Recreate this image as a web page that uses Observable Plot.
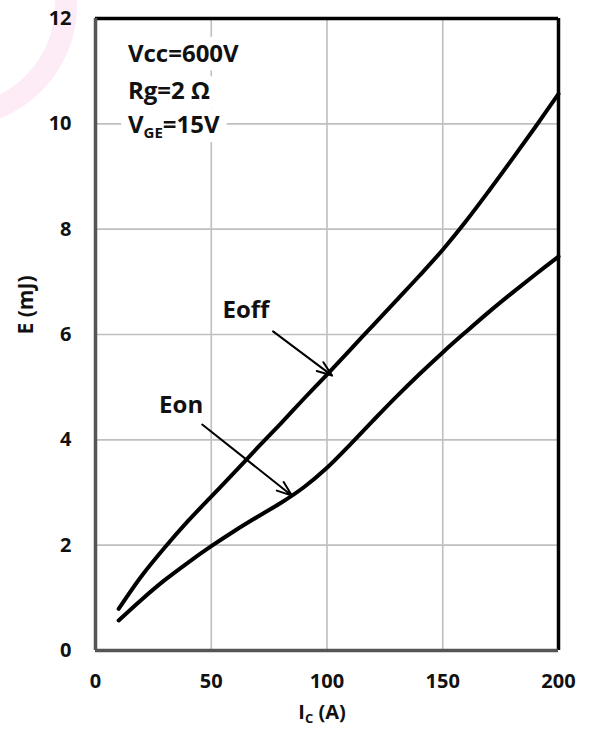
<!DOCTYPE html>
<html>
<head>
<meta charset="utf-8">
<script src="https://cdn.jsdelivr.net/npm/d3@7"></script>
<script src="https://cdn.jsdelivr.net/npm/@observablehq/plot@0.6"></script>
<style>
  body { margin: 0; background: #fff; }
  #wrap { position: relative; width: 595px; height: 733px; overflow: hidden; background: #fff; }
  #ring { position: absolute; left: -167px; top: -117px; width: 244px; height: 244px; box-sizing: border-box;
          border: 22px solid #fdebf5; border-radius: 50%; }
  #chart { position: absolute; left: 0; top: 0; }
</style>
</head>
<body>
<div id="wrap"><div id="ring"></div><div id="chart"></div></div>
<script>
// Collector current (A) and switching energy (mJ)
const currentA = [10, 20, 30, 40, 50, 60, 70, 80, 90, 100, 110, 120, 130, 140, 150, 160, 170, 180, 190, 200];
const eoffE = [0.79, 1.42, 1.96, 2.46, 2.92, 3.38, 3.85, 4.31, 4.78, 5.24, 5.71, 6.18, 6.65, 7.12, 7.61, 8.15, 8.73, 9.33, 9.94, 10.57];
const eonE  = [0.57, 0.97, 1.34, 1.67, 1.98, 2.27, 2.54, 2.80, 3.10, 3.47, 3.91, 4.37, 4.82, 5.25, 5.66, 6.05, 6.43, 6.79, 7.14, 7.48];

const xTicks = [0, 50, 100, 150, 200];
const yTicks = [0, 2, 4, 6, 8, 10, 12];

// Annotation texts (anchored in data units)
const conditions = ["Vcc=600V", "Rg=2 Ω", "VGE=15V"];
const conditionY = [11.32, 10.62, 9.98];
const curveLabels = [{text: "Eoff", x: 65, y: 6.45}, {text: "Eon", x: 37, y: 4.65}];
const pointers = [
  {x1: 76.7, y1: 6.06, x2: 102.2, y2: 5.22},
  {x1: 46.1, y1: 4.29, x2: 84.9, y2: 2.94}
];

const eoffRows = currentA.map((ic, i) => ({ic, e: eoffE[i]}));
const eonRows = currentA.map((ic, i) => ({ic, e: eonE[i]}));
const condRows = conditions.map((t, i) => ({text: t, x: 14, y: conditionY[i]}));

const font = "'Open Sans', 'DejaVu Sans', sans-serif";
const txt = {fontSize: 24, fontWeight: "bold"};

const chart = Plot.plot({
  width: 595,
  height: 733,
  marginLeft: 95,
  marginRight: 37,
  marginTop: 18,
  marginBottom: 83,
  style: {fontFamily: font, fontWeight: "bold", fontSize: "20px", color: "#111", background: "transparent", overflow: "visible"},
  x: {domain: [0, 200], ticks: xTicks, tickSize: 0, tickPadding: 23, label: null},
  y: {domain: [0, 12], ticks: yTicks, tickSize: 0, tickPadding: 24, label: null},
  marks: [
    Plot.gridX(xTicks, {stroke: "#bfbfbf", strokeOpacity: 1, strokeWidth: 1.6}),
    Plot.gridY(yTicks, {stroke: "#bfbfbf", strokeOpacity: 1, strokeWidth: 1.6}),
    // white boxes behind the annotation texts (cut the grid like the reference)
    Plot.text(condRows, {x: "x", y: "y", text: "text", textAnchor: "start", ...txt, fill: "white", stroke: "white", strokeWidth: 18}),
    Plot.text(curveLabels, {x: "x", y: "y", text: "text", textAnchor: "middle", ...txt, fill: "white", stroke: "white", strokeWidth: 14}),
    Plot.line(eoffRows, {x: "ic", y: "e", curve: "catmull-rom", stroke: "#000", strokeWidth: 4}),
    Plot.line(eonRows, {x: "ic", y: "e", curve: "catmull-rom", stroke: "#000", strokeWidth: 4}),
    Plot.arrow(pointers, {x1: "x1", y1: "y1", x2: "x2", y2: "y2", stroke: "#000", strokeWidth: 2, headLength: 12, headAngle: 40}),
    Plot.ruleX([200], {stroke: "#000", strokeWidth: 3.5}),
    Plot.ruleY([12], {stroke: "#000", strokeWidth: 3.5}),
    Plot.ruleX([0], {stroke: "#555", strokeWidth: 3.5}),
    Plot.ruleY([0], {stroke: "#555", strokeWidth: 3.5}),
    Plot.text(condRows, {x: "x", y: "y", text: "text", textAnchor: "start", ...txt, fill: "#111"}),
    Plot.text(curveLabels, {x: "x", y: "y", text: "text", textAnchor: "middle", ...txt, fill: "#111"}),
    Plot.text(["E (mJ)"], {text: d => d, frameAnchor: "left", dx: -69, rotate: -90, fontSize: 21, fontWeight: "bold", fill: "#111"}),
    Plot.text(["IC (A)"], {text: d => d, frameAnchor: "bottom", dy: 68, dx: -5, fontSize: 20, fontWeight: "bold", fill: "#111"})
  ]
});

// subscripts
function subscript(node, a, b, c, size, shift) {
  const t = d3.select(node);
  t.text(null);
  t.append("tspan").text(a);
  t.append("tspan").attr("dy", shift).attr("font-size", size).text(b);
  t.append("tspan").attr("dy", -shift).text(c);
}
d3.select(chart).selectAll("text").each(function() {
  const s = this.textContent;
  if (s === "VGE=15V") subscript(this, "V", "GE", "=15V", 15, 5);
  else if (s === "IC (A)") subscript(this, "I", "C", " (A)", 13, 4);
});

document.getElementById("chart").appendChild(chart);
</script>
</body>
</html>
